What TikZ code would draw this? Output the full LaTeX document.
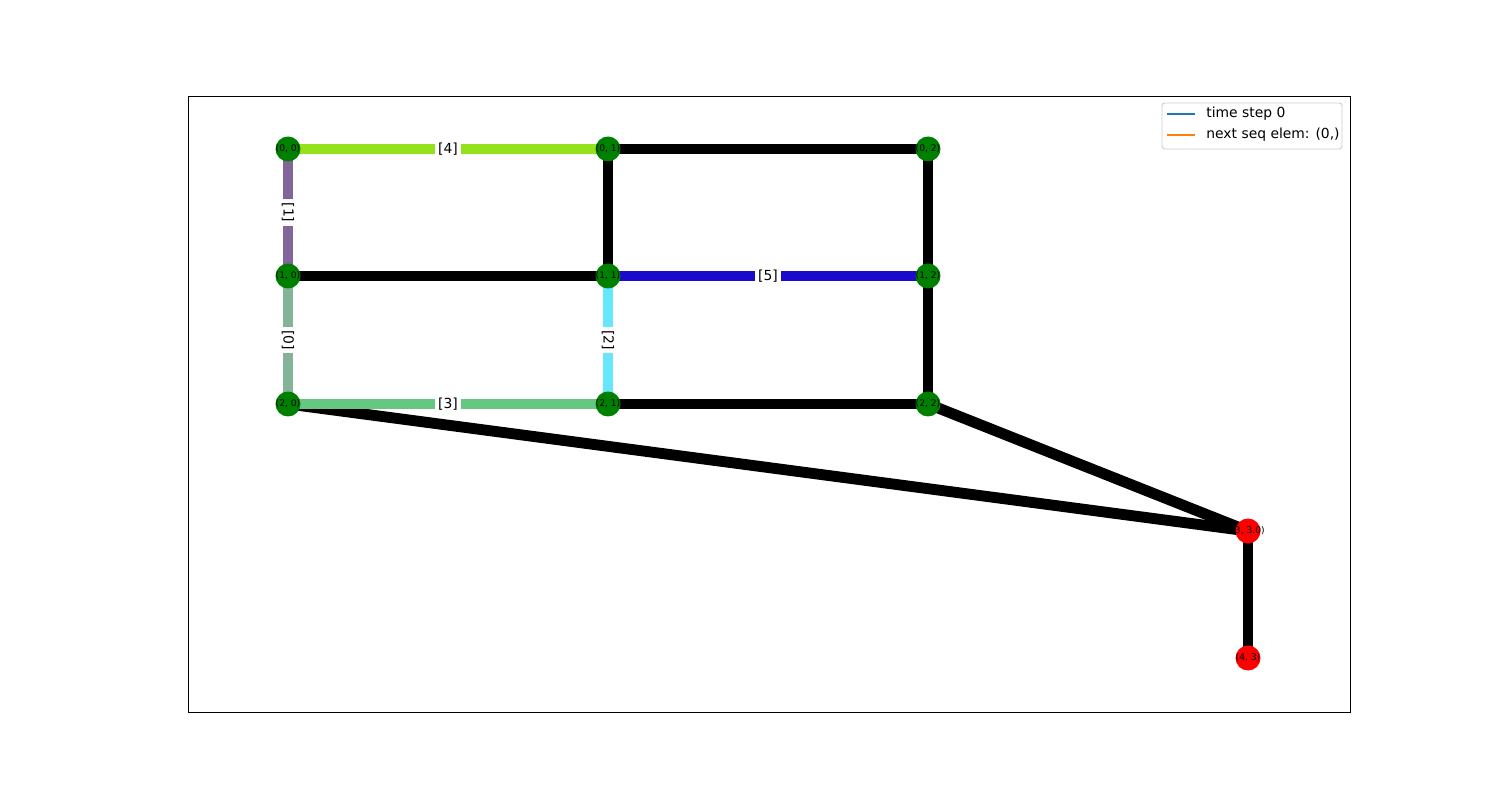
\documentclass[tikz,border=0pt]{standalone}
\usepackage{fontspec}
\setmainfont{DejaVu Sans}
\definecolor{nodegreen}{HTML}{008000}
\definecolor{nodered}{HTML}{FF0000}
\definecolor{elime}{HTML}{94E31A}
\definecolor{epurple}{HTML}{806699}
\definecolor{esage}{HTML}{84B39A}
\definecolor{emint}{HTML}{66C880}
\definecolor{ecyan}{HTML}{66E6FF}
\definecolor{eblue}{HTML}{1A0ACC}
\definecolor{legblue}{HTML}{1F77B4}
\definecolor{legorange}{HTML}{FF7F0E}
\begin{document}
\begin{tikzpicture}[x=0.02cm, y=-0.02cm,
  vert/.style={circle, fill=#1, minimum size=0.5cm, inner sep=0pt, font=\fontsize{5.2}{6}\selectfont},
  link/.style={line width=6.2pt, draw=#1},
  elabel/.style={fill=white, inner sep=2pt, font=\fontsize{7.9}{9}\selectfont}]

\useasboundingbox (0,0) rectangle (1500,800);
\draw[line width=0.5pt] (188,96) rectangle (1350,712);

% grid vertices
\foreach \r/\y in {0/149, 1/276, 2/404}
  \foreach \c/\x in {0/288, 1/608, 2/928}
    \coordinate (p\r\c) at (\x,\y);
\coordinate (p33) at (1248,531);
\coordinate (p43) at (1248,658);

% black edges
\foreach \a/\b in {p01/p02, p01/p11, p02/p12, p10/p11, p12/p22, p21/p22, p22/p33, p20/p33, p33/p43}
  \draw[link=black] (\a) -- (\b);

% labelled edges
\draw[link=elime] (p00) -- node[elabel] {[4]} (p01);
\draw[link=epurple] (p00) -- node[elabel, rotate=-90] {[1]} (p10);
\draw[link=esage] (p10) -- node[elabel, rotate=-90] {[0]} (p20);
\draw[link=emint] (p20) -- node[elabel] {[3]} (p21);
\draw[link=ecyan] (p11) -- node[elabel, rotate=-90] {[2]} (p21);
\draw[link=eblue] (p11) -- node[elabel] {[5]} (p12);

% vertices
\foreach \r in {0,1,2}
  \foreach \c in {0,1,2}
    \node[vert=nodegreen] (n\r\c) at (p\r\c) {\makebox[0pt]{(\r, \c)}};
\node[vert=nodered] (n33) at (p33) {\makebox[0pt]{(3, 3.0)}};
\node[vert=nodered] (n43) at (p43) {\makebox[0pt]{(4, 3)}};

% legend
\draw[draw=black!20, fill=white, rounded corners=1.5pt, line width=0.5pt] (1162,103) rectangle (1342,149);
\coordinate (la) at (1167,114);
\coordinate (lb) at (1195,114);
\coordinate (lc) at (1167,135);
\coordinate (ld) at (1195,135);
\draw[legblue, line width=0.85pt] (la) -- (lb);
\draw[legorange, line width=0.85pt] (lc) -- (ld);
\node[anchor=west, inner sep=0pt, font=\fontsize{7.9}{9}\selectfont] (lt1) at (1206,114) {time step 0};
\node[anchor=west, inner sep=0pt, font=\fontsize{7.9}{9}\selectfont] (lt2) at (1206,135) {next seq elem: (0,)};
\end{tikzpicture}
\end{document}
